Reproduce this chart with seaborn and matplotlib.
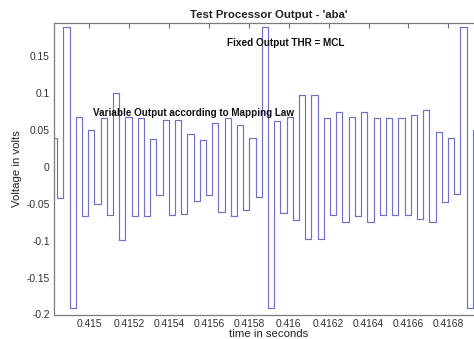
import numpy as np
import pandas as pd
import matplotlib
matplotlib.use("Agg")
import matplotlib.pyplot as plt
import seaborn as sns

# Pulse train timing: rising edge of the first fixed-level pulse and the half period
first_fixed_edge = 0.41487
half_period = 3.11e-5
pulses_before_first_fixed = 1

# Plateau levels (volts), one positive and one negative phase per pulse
pulse_high = [
    0.040,
    0.190, 0.068, 0.050, 0.067, 0.100, 0.068, 0.066, 0.038,
    0.064, 0.064, 0.045, 0.037, 0.060, 0.066, 0.057, 0.039,
    0.190, 0.063, 0.068, 0.098, 0.098, 0.067, 0.075, 0.068,
    0.074, 0.067, 0.067, 0.067, 0.070, 0.077, 0.048, 0.040,
    0.190, 0.050,
]
pulse_low = [
    -0.042,
    -0.191, -0.067, -0.050, -0.065, -0.099, -0.066, -0.066, -0.038,
    -0.065, -0.064, -0.046, -0.038, -0.061, -0.067, -0.058, -0.040,
    -0.191, -0.063, -0.072, -0.098, -0.098, -0.065, -0.074, -0.067,
    -0.074, -0.065, -0.065, -0.065, -0.070, -0.074, -0.048, -0.037,
    -0.191, -0.050,
]

x_ticks = [0.415, 0.4152, 0.4154, 0.4156, 0.4158, 0.416, 0.4162, 0.4164, 0.4166, 0.4168]
x_tick_labels = ["0.415", "0.4152", "0.4154", "0.4156", "0.4158", "0.416",
                 "0.4162", "0.4164", "0.4166", "0.4168"]
y_ticks = [-0.2, -0.15, -0.1, -0.05, 0, 0.05, 0.1, 0.15]
y_tick_labels = ["-0.2", "-0.15", "-0.1", "-0.05", "0", "0.05", "0.1", "0.15"]

# Interleave the two phases into one step signal
levels = []
for hi, lo in zip(pulse_high, pulse_low):
    levels += [hi, lo]
start = first_fixed_edge - 2 * pulses_before_first_fixed * half_period
times = [start + k * half_period for k in range(len(levels) + 1)]
levels = levels + [levels[-1]]
df = pd.DataFrame({"time": times, "volts": levels})

sns.set_style("white")
plt.rcParams["font.family"] = ["Liberation Sans", "DejaVu Sans"]

fig = plt.figure(figsize=(4.74, 3.39), dpi=100)
W, H = 474, 339
ax = fig.add_axes([54 / W, 1 - 314.5 / H, (483 - 54) / W, (314.5 - 23.3) / H])

sns.lineplot(data=df, x="time", y="volts", ax=ax, estimator=None, sort=False,
             drawstyle="steps-post", color="#7070c8", linewidth=0.85)

ax.set_xlim(0.414823, 0.416974)
ax.set_ylim(-0.2, 0.1949)
ax.set_xticks(x_ticks)
ax.set_xticklabels(x_tick_labels)
ax.set_yticks(y_ticks)
ax.set_yticklabels(y_tick_labels)
ax.tick_params(direction="in", length=3.5, width=0.8, color="#707070",
               labelsize=7.4, labelcolor="#333333", top=True, right=True, pad=3)
for sp in ax.spines.values():
    sp.set_visible(True)
    sp.set_color("#7a7a7a")
    sp.set_linewidth(0.9)

ax.set_title("Test Processor Output - 'aba'", fontsize=8.2, fontweight="bold",
             color="#222222", pad=4)
ax.set_xlabel("time in seconds", fontsize=8.2, color="#222222", labelpad=0)
ax.set_ylabel("Voltage in volts", fontsize=8.2, color="#222222", labelpad=3)

ax.text(0.41569, 0.1685, "Fixed Output THR = MCL", fontsize=7.2,
        fontweight="bold", color="#111111", va="center", ha="left")
ax.text(0.415019, 0.0736, "Variable Output according to Mapping Law",
        fontsize=7.1, fontweight="bold", color="#111111", va="center", ha="left")

fig.savefig("out.png", dpi=100)
